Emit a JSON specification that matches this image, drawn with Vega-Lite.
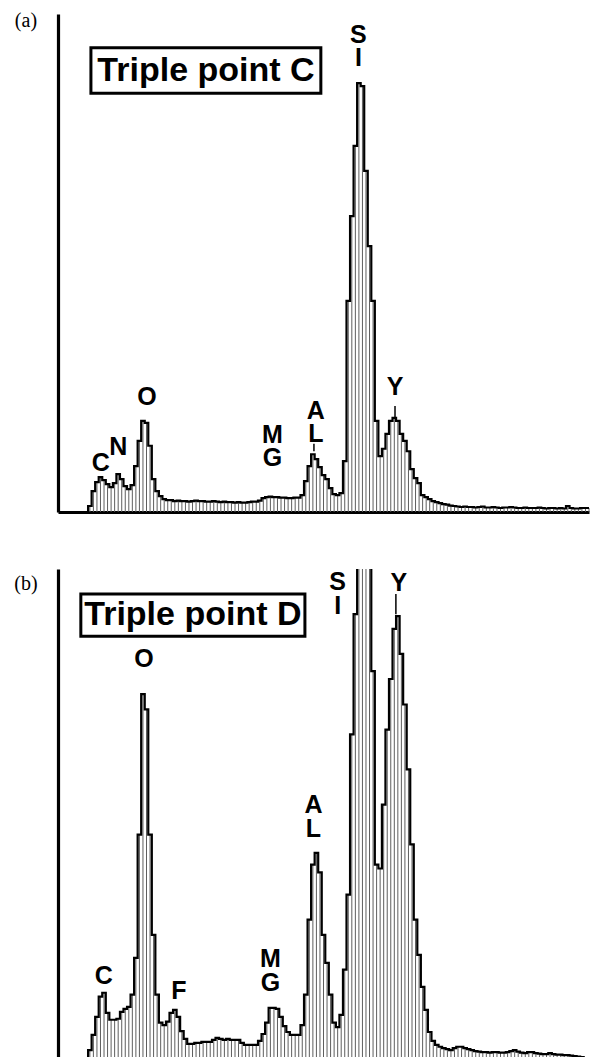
{
  "$schema": "https://vega.github.io/schema/vega-lite/v6.json",
  "background": "white",
  "padding": {"left": 14, "top": 10, "right": 0, "bottom": 0},
  "autosize": {"type": "pad"},
  "spacing": 52,
  "config": {
    "view": {"stroke": null},
    "axis": {"title": null, "labels": false, "ticks": false, "grid": false, "domainColor": "black", "domainWidth": 3.2}
  },
  "datasets": {
    "specA": [
      {"keV":0.20,"c":0},{"keV":0.22,"c":1.2},{"keV":0.24,"c":4.2},{"keV":0.26,"c":6.0},{"keV":0.28,"c":7.0},{"keV":0.30,"c":6.4},{"keV":0.32,"c":5.6},{"keV":0.34,"c":5.0},{"keV":0.36,"c":5.8},{"keV":0.38,"c":7.6},
      {"keV":0.40,"c":6.6},{"keV":0.42,"c":5.2},{"keV":0.44,"c":4.6},{"keV":0.46,"c":5.4},{"keV":0.48,"c":9.2},{"keV":0.50,"c":14.3},{"keV":0.52,"c":18.3},{"keV":0.54,"c":17.9},{"keV":0.56,"c":13.3},{"keV":0.58,"c":6.6},
      {"keV":0.60,"c":4.2},{"keV":0.62,"c":3.2},{"keV":0.64,"c":2.6},{"keV":0.66,"c":2.4},{"keV":0.68,"c":2.4},{"keV":0.70,"c":2.2},{"keV":0.72,"c":2.3},{"keV":0.74,"c":2.2},{"keV":0.76,"c":2.2},{"keV":0.78,"c":2.1},
      {"keV":0.80,"c":2.2},{"keV":0.82,"c":2.3},{"keV":0.84,"c":2.2},{"keV":0.86,"c":2.2},{"keV":0.88,"c":2.1},{"keV":0.90,"c":2.1},{"keV":0.92,"c":2.2},{"keV":0.94,"c":2.1},{"keV":0.96,"c":2.0},{"keV":0.98,"c":2.1},
      {"keV":1.00,"c":2.0},{"keV":1.02,"c":2.0},{"keV":1.04,"c":1.9},{"keV":1.06,"c":2.0},{"keV":1.08,"c":1.9},{"keV":1.10,"c":1.9},{"keV":1.12,"c":2.0},{"keV":1.14,"c":2.1},{"keV":1.16,"c":2.1},{"keV":1.18,"c":2.3},
      {"keV":1.20,"c":2.8},{"keV":1.22,"c":3.0},{"keV":1.24,"c":3.1},{"keV":1.26,"c":3.0},{"keV":1.28,"c":3.0},{"keV":1.30,"c":2.9},{"keV":1.32,"c":2.9},{"keV":1.34,"c":2.8},{"keV":1.36,"c":2.8},{"keV":1.38,"c":2.9},
      {"keV":1.40,"c":2.9},{"keV":1.42,"c":3.4},{"keV":1.44,"c":6.2},{"keV":1.46,"c":9.2},{"keV":1.48,"c":11.6},{"keV":1.50,"c":10.6},{"keV":1.52,"c":9.0},{"keV":1.54,"c":7.4},{"keV":1.56,"c":6.6},{"keV":1.58,"c":4.8},
      {"keV":1.60,"c":3.6},{"keV":1.62,"c":3.4},{"keV":1.64,"c":3.8},{"keV":1.66,"c":10.2},{"keV":1.68,"c":42.4},{"keV":1.70,"c":59.4},{"keV":1.72,"c":73.5},{"keV":1.74,"c":86.1},{"keV":1.76,"c":85.5},{"keV":1.78,"c":68.5},
      {"keV":1.80,"c":53.4},{"keV":1.82,"c":42.4},{"keV":1.84,"c":18.3},{"keV":1.86,"c":11.2},{"keV":1.88,"c":12.7},{"keV":1.90,"c":15.7},{"keV":1.92,"c":18.3},{"keV":1.94,"c":18.9},{"keV":1.96,"c":18.3},{"keV":1.98,"c":15.7},
      {"keV":2.00,"c":14.3},{"keV":2.02,"c":12.2},{"keV":2.04,"c":8.6},{"keV":2.06,"c":6.8},{"keV":2.08,"c":5.8},{"keV":2.10,"c":3.4},{"keV":2.12,"c":3.0},{"keV":2.14,"c":2.6},{"keV":2.16,"c":2.2},{"keV":2.18,"c":2.0},
      {"keV":2.20,"c":1.8},{"keV":2.22,"c":1.6},{"keV":2.24,"c":1.5},{"keV":2.26,"c":1.3},{"keV":2.28,"c":1.2},{"keV":2.30,"c":1.1},{"keV":2.32,"c":1.0},{"keV":2.34,"c":1.1},{"keV":2.36,"c":1.0},{"keV":2.38,"c":1.0},
      {"keV":2.40,"c":0.9},{"keV":2.42,"c":1.0},{"keV":2.44,"c":1.1},{"keV":2.46,"c":0.9},{"keV":2.48,"c":0.9},{"keV":2.50,"c":1.0},{"keV":2.52,"c":0.9},{"keV":2.54,"c":0.8},{"keV":2.56,"c":0.9},{"keV":2.58,"c":0.9},
      {"keV":2.60,"c":1.0},{"keV":2.62,"c":0.9},{"keV":2.64,"c":0.8},{"keV":2.66,"c":0.8},{"keV":2.68,"c":0.9},{"keV":2.70,"c":0.8},{"keV":2.72,"c":0.8},{"keV":2.74,"c":0.8},{"keV":2.76,"c":0.9},{"keV":2.78,"c":0.8},
      {"keV":2.80,"c":0.7},{"keV":2.82,"c":0.8},{"keV":2.84,"c":0.8},{"keV":2.86,"c":0.7},{"keV":2.88,"c":0.8},{"keV":2.90,"c":0.7},{"keV":2.92,"c":1.2},{"keV":2.94,"c":0.8},{"keV":2.96,"c":0.7},{"keV":2.98,"c":0.7},
      {"keV":3.00,"c":0.8},{"keV":3.02,"c":0.8},{"keV":3.04,"c":0.8}
    ],
    "specB": [
      {"keV":0.20,"c":0},{"keV":0.22,"c":2.0},{"keV":0.24,"c":5.1},{"keV":0.26,"c":8.8},{"keV":0.28,"c":12.9},{"keV":0.30,"c":13.7},{"keV":0.32,"c":9.6},{"keV":0.34,"c":8.2},{"keV":0.36,"c":8.2},{"keV":0.38,"c":8.4},
      {"keV":0.40,"c":9.8},{"keV":0.42,"c":10.4},{"keV":0.44,"c":10.8},{"keV":0.46,"c":13.3},{"keV":0.48,"c":20.8},{"keV":0.50,"c":45.9},{"keV":0.52,"c":74.5},{"keV":0.54,"c":71.4},{"keV":0.56,"c":45.9},{"keV":0.58,"c":25.5},
      {"keV":0.60,"c":13.3},{"keV":0.62,"c":7.6},{"keV":0.64,"c":7.1},{"keV":0.66,"c":7.8},{"keV":0.68,"c":9.6},{"keV":0.70,"c":10.2},{"keV":0.72,"c":8.8},{"keV":0.74,"c":5.9},{"keV":0.76,"c":4.3},{"keV":0.78,"c":3.3},
      {"keV":0.80,"c":3.3},{"keV":0.82,"c":3.5},{"keV":0.84,"c":3.5},{"keV":0.86,"c":3.7},{"keV":0.88,"c":3.7},{"keV":0.90,"c":3.7},{"keV":0.92,"c":4.1},{"keV":0.94,"c":4.5},{"keV":0.96,"c":4.3},{"keV":0.98,"c":4.1},
      {"keV":1.00,"c":4.3},{"keV":1.02,"c":4.1},{"keV":1.04,"c":4.1},{"keV":1.06,"c":4.1},{"keV":1.08,"c":3.5},{"keV":1.10,"c":3.1},{"keV":1.12,"c":3.1},{"keV":1.14,"c":3.1},{"keV":1.16,"c":3.1},{"keV":1.18,"c":3.9},
      {"keV":1.20,"c":5.3},{"keV":1.22,"c":7.6},{"keV":1.24,"c":10.6},{"keV":1.26,"c":10.6},{"keV":1.28,"c":10.4},{"keV":1.30,"c":8.8},{"keV":1.32,"c":6.9},{"keV":1.34,"c":5.7},{"keV":1.36,"c":5.1},{"keV":1.38,"c":5.1},
      {"keV":1.40,"c":5.1},{"keV":1.42,"c":7.1},{"keV":1.44,"c":13.3},{"keV":1.46,"c":28.6},{"keV":1.48,"c":39.8},{"keV":1.50,"c":42.2},{"keV":1.52,"c":38.2},{"keV":1.54,"c":25.5},{"keV":1.56,"c":19.8},{"keV":1.58,"c":13.3},
      {"keV":1.60,"c":7.6},{"keV":1.62,"c":6.7},{"keV":1.64,"c":9.2},{"keV":1.66,"c":18.4},{"keV":1.68,"c":33.7},{"keV":1.70,"c":66.3},{"keV":1.72,"c":90.8},{"keV":1.74,"c":105},{"keV":1.76,"c":108},{"keV":1.78,"c":108},
      {"keV":1.80,"c":104},{"keV":1.82,"c":79.2},{"keV":1.84,"c":39.8},{"keV":1.86,"c":39.0},{"keV":1.88,"c":52.0},{"keV":1.90,"c":67.3},{"keV":1.92,"c":77.6},{"keV":1.94,"c":87.8},{"keV":1.96,"c":90.4},{"keV":1.98,"c":82.7},
      {"keV":2.00,"c":72.4},{"keV":2.02,"c":59.2},{"keV":2.04,"c":43.9},{"keV":2.06,"c":28.6},{"keV":2.08,"c":21.4},{"keV":2.10,"c":14.9},{"keV":2.12,"c":10.2},{"keV":2.14,"c":5.7},{"keV":2.16,"c":3.9},{"keV":2.18,"c":3.1},
      {"keV":2.20,"c":2.7},{"keV":2.22,"c":2.4},{"keV":2.24,"c":2.2},{"keV":2.26,"c":2.0},{"keV":2.28,"c":2.4},{"keV":2.30,"c":2.7},{"keV":2.32,"c":2.7},{"keV":2.34,"c":2.4},{"keV":2.36,"c":2.2},{"keV":2.38,"c":2.0},
      {"keV":2.40,"c":1.8},{"keV":2.42,"c":1.7},{"keV":2.44,"c":1.6},{"keV":2.46,"c":1.6},{"keV":2.48,"c":1.5},{"keV":2.50,"c":1.6},{"keV":2.52,"c":1.6},{"keV":2.54,"c":1.5},{"keV":2.56,"c":1.5},{"keV":2.58,"c":1.6},
      {"keV":2.60,"c":1.8},{"keV":2.62,"c":2.0},{"keV":2.64,"c":1.7},{"keV":2.66,"c":1.5},{"keV":2.68,"c":1.4},{"keV":2.70,"c":1.6},{"keV":2.72,"c":1.6},{"keV":2.74,"c":1.4},{"keV":2.76,"c":1.3},{"keV":2.78,"c":1.2},
      {"keV":2.80,"c":1.2},{"keV":2.82,"c":1.4},{"keV":2.84,"c":1.2},{"keV":2.86,"c":1.1},{"keV":2.88,"c":1.1},{"keV":2.90,"c":1.0},{"keV":2.92,"c":1.0},{"keV":2.94,"c":0.9},{"keV":2.96,"c":0.8},{"keV":2.98,"c":0.7},
      {"keV":3.00,"c":0.6},{"keV":3.02,"c":0}
    ],
    "labels": [
      {"panel":"a","kind":"panel","text":"(a)","keV":-0.141,"v":98.6},
      {"panel":"a","kind":"title","text":"Triple point C","keV":0.876,"v":88.6},
      {"panel":"a","kind":"elem","text":"S\nI","keV":1.737,"v":95.8},
      {"panel":"a","kind":"elem","text":"Y","keV":1.944,"v":25.1},
      {"panel":"a","kind":"elem","text":"A\nL","keV":1.497,"v":20.3},
      {"panel":"a","kind":"elem","text":"M\nG","keV":1.251,"v":15.5},
      {"panel":"a","kind":"elem","text":"O","keV":0.542,"v":23.1},
      {"panel":"a","kind":"elem","text":"C","keV":0.282,"v":9.8},
      {"panel":"a","kind":"elem","text":"N","keV":0.381,"v":13.1},
      {"panel":"b","kind":"panel","text":"(b)","keV":-0.141,"v":96.9},
      {"panel":"b","kind":"title","text":"Triple point D","keV":0.802,"v":90.6},
      {"panel":"b","kind":"elem","text":"S\nI","keV":1.62,"v":97.3},
      {"panel":"b","kind":"elem","text":"Y","keV":1.966,"v":97.1},
      {"panel":"b","kind":"elem","text":"A\nL","keV":1.483,"v":52.0},
      {"panel":"b","kind":"elem","text":"O","keV":0.525,"v":81.6},
      {"panel":"b","kind":"elem","text":"C","keV":0.299,"v":17.1},
      {"panel":"b","kind":"elem","text":"F","keV":0.723,"v":14.1},
      {"panel":"b","kind":"elem","text":"M\nG","keV":1.240,"v":20.6}
    ],
    "boxes": [
      {"panel":"a","k1":0.226,"k2":1.525,"v1":84.1,"v2":93.2},
      {"panel":"b","k1":0.169,"k2":1.435,"v1":86.3,"v2":94.9}
    ],
    "ticks": [
      {"panel":"a","keV":1.944,"top":21.3,"bot":18.9},
      {"panel":"a","keV":1.486,"top":13.7,"bot":12.2},
      {"panel":"b","keV":1.949,"top":94.9,"bot":90.8}
    ]
  },
  "vconcat": [
    {
      "width": 531,
      "height": 498,
      "layer": [
        {
          "data": {"name": "specA"},
          "mark": {"type": "rule", "color": "#5e5e5e", "strokeWidth": 1},
          "encoding": {
            "x": {"field": "keV", "type": "quantitative", "scale": {"domain": [0.04, 3.04], "nice": false, "zero": false}},
            "y": {"field": "c", "type": "quantitative", "scale": {"domain": [0, 100], "nice": false}},
            "y2": {"datum": 0}
          }
        },
        {
          "data": {"name": "specA"},
          "mark": {"type": "line", "interpolate": "step", "color": "black", "strokeWidth": 2.2},
          "encoding": {
            "x": {"field": "keV", "type": "quantitative"},
            "y": {"field": "c", "type": "quantitative"}
          }
        },
        {
          "data": {"name": "boxes"},
          "transform": [{"filter": "datum.panel === 'a'"}],
          "mark": {"type": "rect", "fill": "white", "stroke": "black", "strokeWidth": 3},
          "encoding": {
            "x": {"field": "k1", "type": "quantitative"},
            "x2": {"field": "k2"},
            "y": {"field": "v1", "type": "quantitative"},
            "y2": {"field": "v2"}
          }
        },
        {
          "data": {"name": "ticks"},
          "transform": [{"filter": "datum.panel === 'a'"}],
          "mark": {"type": "rule", "color": "black", "strokeWidth": 1.5},
          "encoding": {
            "x": {"field": "keV", "type": "quantitative"},
            "y": {"field": "top", "type": "quantitative"},
            "y2": {"field": "bot"}
          }
        },
        {
          "data": {"name": "labels"},
          "transform": [{"filter": "datum.panel === 'a' && datum.kind === 'elem'"}],
          "mark": {"type": "text", "font": "Liberation Sans", "fontWeight": "bold", "fontSize": 25, "baseline": "middle", "align": "center", "color": "black", "lineBreak": "\n", "lineHeight": 23},
          "encoding": {
            "x": {"field": "keV", "type": "quantitative"},
            "y": {"field": "v", "type": "quantitative"},
            "text": {"field": "text"}
          }
        },
        {
          "data": {"name": "labels"},
          "transform": [{"filter": "datum.panel === 'a' && datum.kind === 'title'"}],
          "mark": {"type": "text", "font": "Liberation Sans", "fontWeight": "bold", "fontSize": 34, "baseline": "middle", "align": "center", "color": "black"},
          "encoding": {
            "x": {"field": "keV", "type": "quantitative"},
            "y": {"field": "v", "type": "quantitative"},
            "text": {"field": "text"}
          }
        },
        {
          "data": {"name": "labels"},
          "transform": [{"filter": "datum.panel === 'a' && datum.kind === 'panel'"}],
          "mark": {"type": "text", "font": "Liberation Serif", "fontSize": 20, "baseline": "middle", "align": "center", "color": "black"},
          "encoding": {
            "x": {"field": "keV", "type": "quantitative"},
            "y": {"field": "v", "type": "quantitative"},
            "text": {"field": "text"}
          }
        }
      ]
    },
    {
      "width": 531,
      "height": 491,
      "layer": [
        {
          "data": {"name": "specB"},
          "mark": {"type": "rule", "color": "#5e5e5e", "strokeWidth": 1, "clip": true},
          "encoding": {
            "x": {"field": "keV", "type": "quantitative", "scale": {"domain": [0.04, 3.04], "nice": false, "zero": false}},
            "y": {"field": "c", "type": "quantitative", "scale": {"domain": [0, 100], "nice": false}},
            "y2": {"datum": 0}
          }
        },
        {
          "data": {"name": "specB"},
          "mark": {"type": "line", "interpolate": "step", "color": "black", "strokeWidth": 2.2, "clip": true},
          "encoding": {
            "x": {"field": "keV", "type": "quantitative"},
            "y": {"field": "c", "type": "quantitative"}
          }
        },
        {
          "data": {"name": "boxes"},
          "transform": [{"filter": "datum.panel === 'b'"}],
          "mark": {"type": "rect", "fill": "white", "stroke": "black", "strokeWidth": 3},
          "encoding": {
            "x": {"field": "k1", "type": "quantitative"},
            "x2": {"field": "k2"},
            "y": {"field": "v1", "type": "quantitative"},
            "y2": {"field": "v2"}
          }
        },
        {
          "data": {"name": "ticks"},
          "transform": [{"filter": "datum.panel === 'b'"}],
          "mark": {"type": "rule", "color": "black", "strokeWidth": 1.5},
          "encoding": {
            "x": {"field": "keV", "type": "quantitative"},
            "y": {"field": "top", "type": "quantitative"},
            "y2": {"field": "bot"}
          }
        },
        {
          "data": {"name": "labels"},
          "transform": [{"filter": "datum.panel === 'b' && datum.kind === 'elem'"}],
          "mark": {"type": "text", "font": "Liberation Sans", "fontWeight": "bold", "fontSize": 25, "baseline": "middle", "align": "center", "color": "black", "lineBreak": "\n", "lineHeight": 24},
          "encoding": {
            "x": {"field": "keV", "type": "quantitative"},
            "y": {"field": "v", "type": "quantitative"},
            "text": {"field": "text"}
          }
        },
        {
          "data": {"name": "labels"},
          "transform": [{"filter": "datum.panel === 'b' && datum.kind === 'title'"}],
          "mark": {"type": "text", "font": "Liberation Sans", "fontWeight": "bold", "fontSize": 34, "baseline": "middle", "align": "center", "color": "black"},
          "encoding": {
            "x": {"field": "keV", "type": "quantitative"},
            "y": {"field": "v", "type": "quantitative"},
            "text": {"field": "text"}
          }
        },
        {
          "data": {"name": "labels"},
          "transform": [{"filter": "datum.panel === 'b' && datum.kind === 'panel'"}],
          "mark": {"type": "text", "font": "Liberation Serif", "fontSize": 20, "baseline": "middle", "align": "center", "color": "black"},
          "encoding": {
            "x": {"field": "keV", "type": "quantitative"},
            "y": {"field": "v", "type": "quantitative"},
            "text": {"field": "text"}
          }
        }
      ]
    }
  ]
}
